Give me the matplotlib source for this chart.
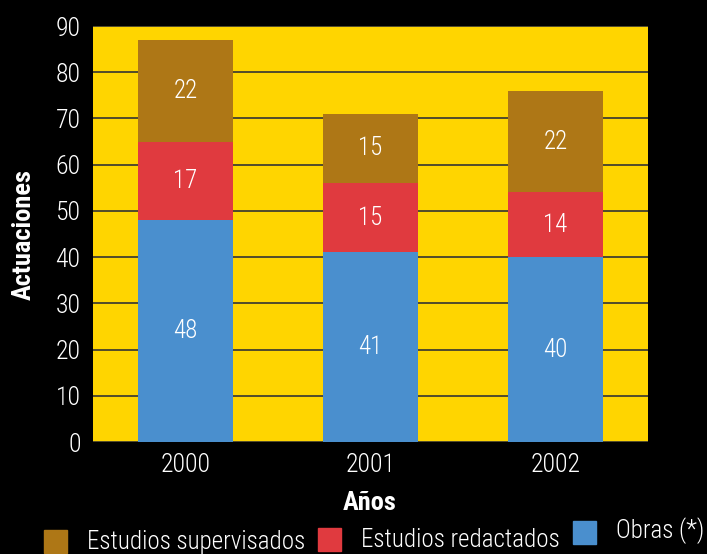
import numpy as np
import matplotlib.pyplot as plt
from matplotlib.patches import Rectangle

years = ['2000', '2001', '2002']
obras = [48, 41, 40]
redactados = [17, 15, 14]
supervisados = [22, 15, 22]

c_sup = '#AE7716'
c_red = '#E03A3F'
c_obr = '#4A8FCE'
c_bg = '#FFD500'

plt.rcParams['font.family'] = ['Roboto Condensed', 'DejaVu Sans']
plt.rcParams['font.weight'] = 'light'

fig = plt.figure(figsize=(7.07, 5.54), dpi=100, facecolor='black')
ax = fig.add_axes([93/707, 1-442/554, 555/707, 416/554])
ax.set_facecolor(c_bg)

x = np.arange(len(years))
w = 0.51
b1 = ax.bar(x, obras, w, color=c_obr, zorder=3)
b2 = ax.bar(x, redactados, w, bottom=obras, color=c_red, zorder=3)
bot3 = np.array(obras) + np.array(redactados)
b3 = ax.bar(x, supervisados, w, bottom=bot3, color=c_sup, zorder=3)

for vals, bots in [(obras, [0]*3), (redactados, obras), (supervisados, bot3)]:
    for xi, v, b in zip(x, vals, bots):
        ax.text(xi, b + v/2, str(v), ha='center', va='center', color='white', fontsize=18, zorder=4)

ax.set_xlim(-0.5, 2.5)
ax.set_ylim(0, 90)
ax.set_yticks(range(0, 91, 10))
ax.set_xticks(x)
ax.set_xticklabels(years)
ax.yaxis.grid(True, color='#333333', linewidth=1.2, zorder=1)
ax.tick_params(colors='white', labelsize=18.5, length=0, pad=9)
ax.tick_params(axis='x', pad=8)
for s in ax.spines.values():
    s.set_visible(False)

ax.set_ylabel('Actuaciones', color='white', fontsize=19, fontweight='bold', labelpad=14)
fig.text(370/707, 1-503/554, 'Años', color='white', fontsize=19, fontweight='bold', ha='center', va='center')

# legend
items = [(44, 530, c_sup, 87, 542, 'Estudios supervisados'),
         (318, 528, c_red, 361, 540, 'Estudios redactados'),
         (573, 521, c_obr, 616, 531, 'Obras (*)')]
for sx, sy, col, tx, ty, lab in items:
    fig.patches.append(Rectangle((sx/707, 1-(sy+23)/554), 23/707, 23/554, color=col, transform=fig.transFigure))
    fig.text(tx/707, 1-ty/554, lab, color='white', fontsize=18, ha='left', va='center')

fig.savefig('out.png', dpi=100, facecolor='black')
